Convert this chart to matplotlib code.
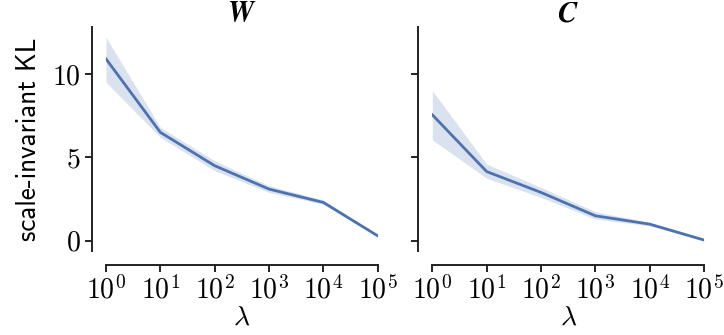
import numpy as np
from matplotlib import pyplot as plt

# lambda sweep and mean / band of the scale-invariant KL
lambdas = [1e0, 1e1, 1e2, 1e3, 1e4, 1e5]

w_mean = [10.9, 6.5, 4.5, 3.1, 2.3, 0.3]
w_low = [9.5, 6.2, 4.2, 2.9, 2.2, 0.25]
w_high = [12.2, 6.8, 4.8, 3.3, 2.45, 0.35]

c_mean = [7.55, 4.15, 2.9, 1.5, 1.0, 0.05]
c_low = [6.05, 3.75, 2.6, 1.3, 0.9, 0.0]
c_high = [9.0, 4.6, 3.2, 1.75, 1.1, 0.1]

titles = [r'$\mathbfit{W}$', r'$\mathbfit{C}$']

plt.rcParams['mathtext.fontset'] = 'cm'
plt.rcParams['font.family'] = 'cmr10'
plt.rcParams['axes.formatter.use_mathtext'] = True
plt.rcParams['font.size'] = 20

colour = '#4c72b0'

fig, axes = plt.subplots(1, 2, figsize=(7.24, 3.35), dpi=100, sharey=True)
fig.subplots_adjust(left=0.1464, right=0.9724, top=0.9194, bottom=0.2507, wspace=0.201)

series = [(w_mean, w_low, w_high), (c_mean, c_low, c_high)]

for ax, (mean, low, high), title in zip(axes, series, titles):
    ax.fill_between(lambdas, low, high, color=colour, alpha=0.2, linewidth=0)
    ax.plot(lambdas, mean, color=colour, linewidth=2)
    ax.set_xscale('log')
    ax.set_xlim(1, 1e5)
    ax.set_xticks(lambdas)
    ax.set_xticklabels([r'$10^{%d}$' % k for k in range(6)])
    ax.minorticks_off()
    ax.set_xlabel(r'$\lambda$', labelpad=0)
    ax.set_title(title, fontsize=21, pad=4)
    for side in ['top', 'right']:
        ax.spines[side].set_visible(False)
    for side in ['left', 'bottom']:
        ax.spines[side].set_position(('outward', 10))
        ax.spines[side].set_linewidth(1.4)
        ax.spines[side].set_color('#222222')
    ax.tick_params(length=5, width=1.4, color='#222222', pad=3)

axes[0].set_yticks([0, 5, 10])
axes[0].set_ylabel('scale-invariant KL', family='cmss10', fontsize=19.5, labelpad=8)
axes[1].tick_params(labelleft=False)

plt.savefig('out.png')
